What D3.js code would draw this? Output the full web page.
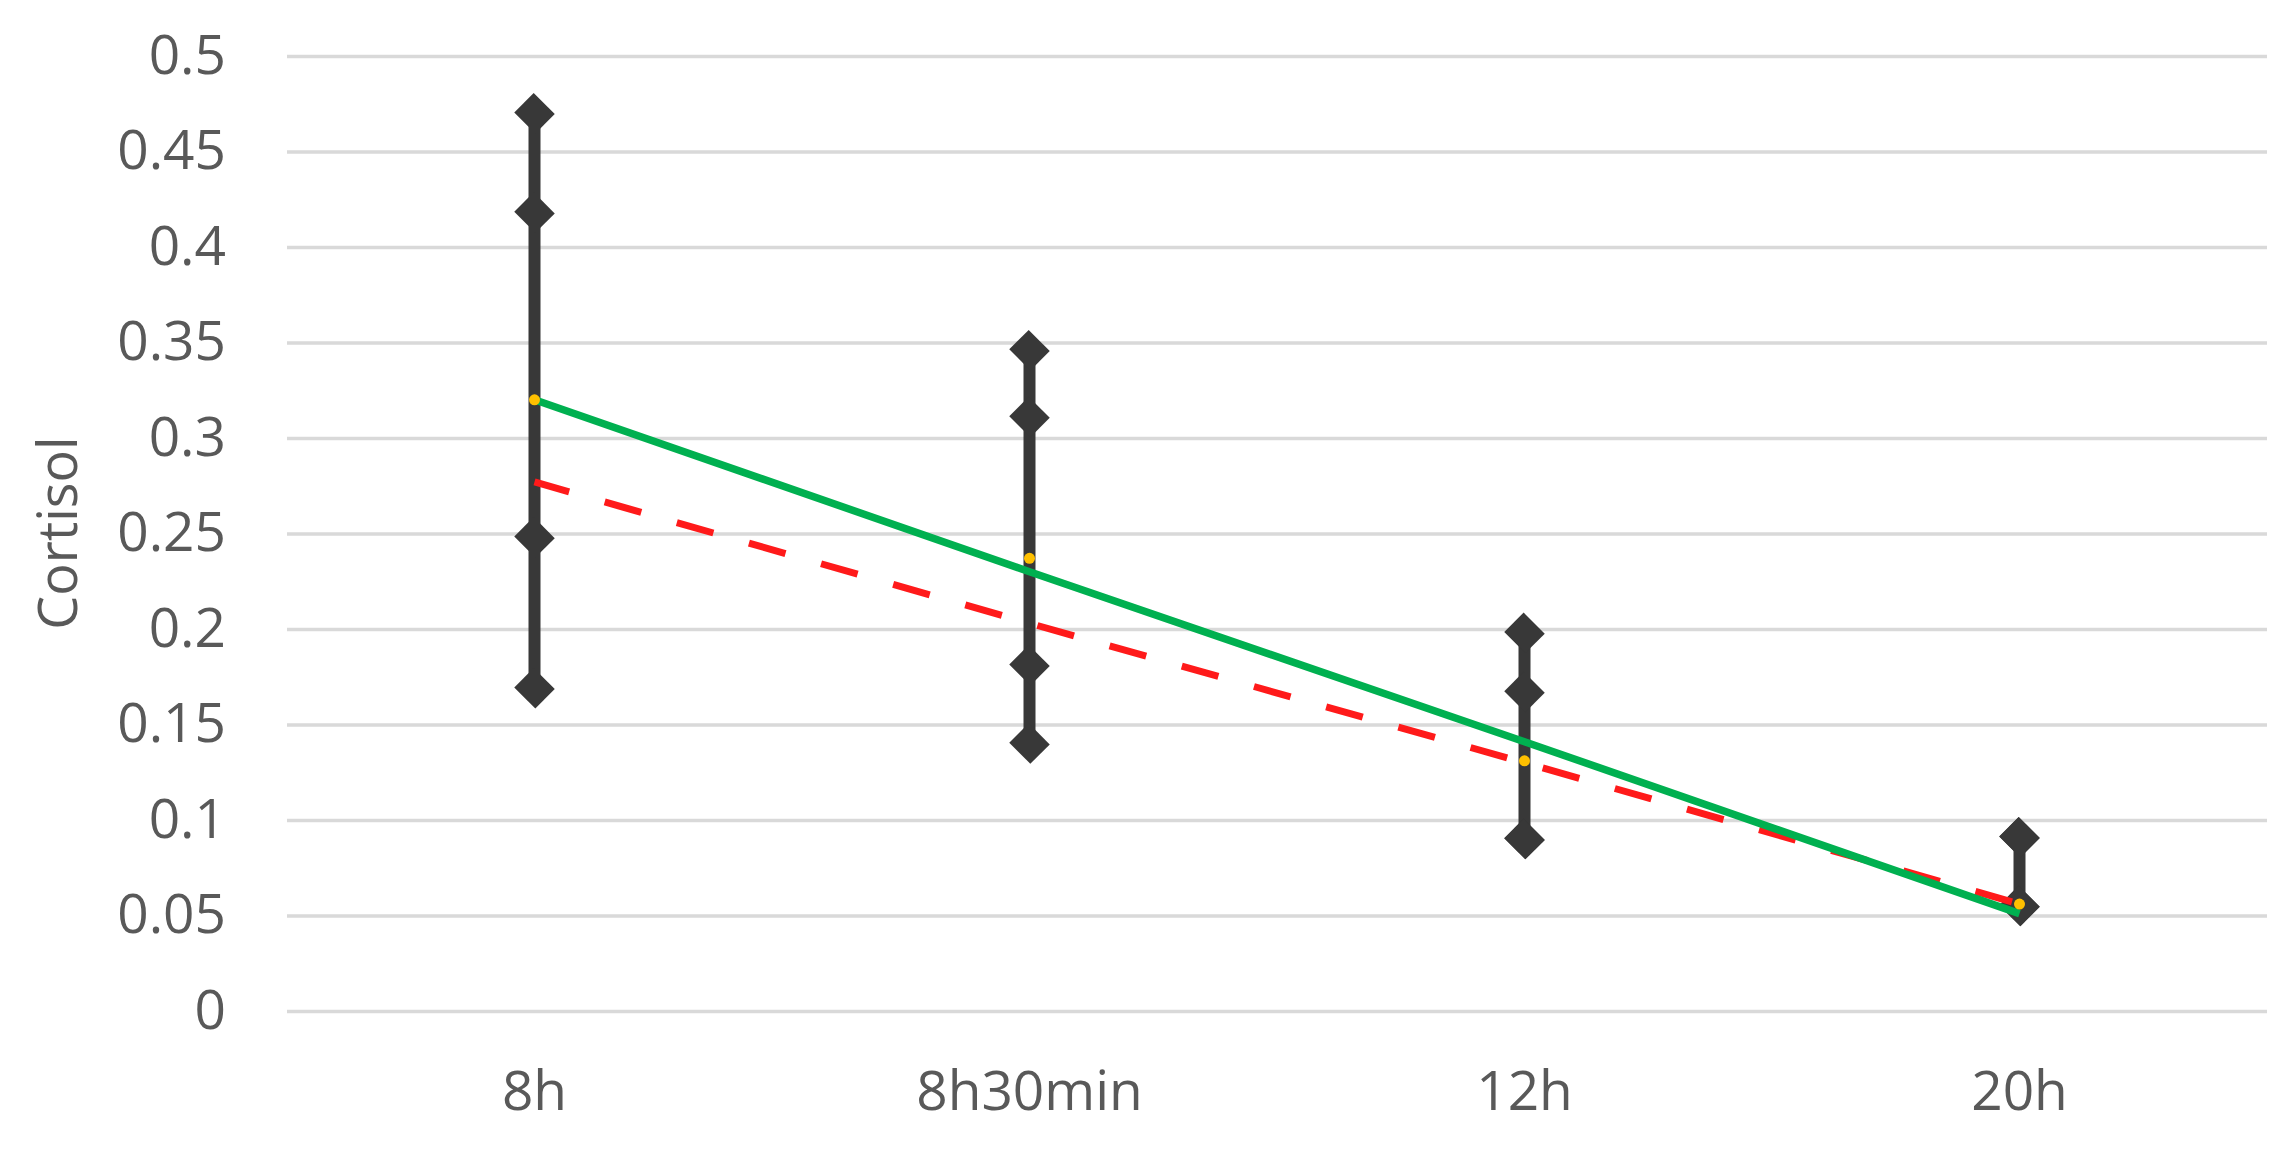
<!DOCTYPE html>
<html>
<head>
<meta charset="utf-8">
<script src="https://d3js.org/d3.v7.min.js" type="text/javascript"></script>
<style>
  body { margin: 0; background: #ffffff; }
  .tick-label { font-family: "Open Sans", sans-serif; fill: #595959; }
</style>
</head>
<body>
<div id="chart"></div>
<script>
// values
const categories = ["8h", "8h30min", "12h", "20h"];
const highValues = [0.470, 0.346, 0.198, 0.091];
const upperValues = [0.418, 0.311, 0.167, 0.091];
const lowerValues = [0.248, 0.181, 0.090, 0.055];
const lowValues = [0.169, 0.140, 0.090, 0.055];
const meanValues = [0.320, 0.237, 0.131, 0.056];
const trendValues = [0.320, 0.230, 0.141, 0.051];   // green trend line
const dashedValues = [0.277, 0.203, 0.130, 0.056];  // red dashed line
const yTicks = [0, 0.05, 0.1, 0.15, 0.2, 0.25, 0.3, 0.35, 0.4, 0.45, 0.5];
const yTitle = "Cortisol";

const dims = {
    width: 2289,
    height: 1151,
    margins: { l: 287, r: 22, t: 56, b: 140 }
};
dims.chartWidth = dims.width - dims.margins.l - dims.margins.r;
dims.chartHeight = dims.height - dims.margins.t - dims.margins.b;

const svg = d3.select("#chart").append("svg")
    .attr("width", dims.width)
    .attr("height", dims.height);

const g = svg.append("g")
    .attr("transform", `translate(${dims.margins.l},${dims.margins.t})`);

const x = d3.scaleBand().domain(categories).range([0, dims.chartWidth]).padding(0);
const y = d3.scaleLinear().domain([0, 0.5]).range([dims.chartHeight, 0]);
const cx = (c) => x(c) + x.bandwidth() / 2;

//gridlines
const yAxis = g.append("g")
    .call(d3.axisLeft(y).tickValues(yTicks).tickSize(-dims.chartWidth).tickFormat(d3.format("~g")));
yAxis.select(".domain").remove();
yAxis.selectAll(".tick line")
    .attr("stroke", "#d9d9d9")
    .attr("stroke-width", 3.5);
yAxis.selectAll(".tick text")
    .attr("class", "tick-label")
    .attr("x", -61)
    .attr("dy", "0.31em")
    .style("font-size", "55px");

//x axis labels
const xAxis = g.append("g")
    .attr("transform", `translate(0,${dims.chartHeight})`)
    .call(d3.axisBottom(x).tickSize(0));
xAxis.select(".domain").remove();
xAxis.selectAll(".tick text")
    .attr("class", "tick-label")
    .attr("y", 99)
    .attr("dy", 0)
    .style("font-size", "55px");

//y axis title
svg.append("text")
    .attr("class", "tick-label")
    .attr("transform", "translate(77,533) rotate(-90)")
    .attr("text-anchor", "middle")
    .style("font-size", "54px")
    .text(yTitle);

const rows = categories.map((c, i) => ({
    cat: c,
    high: highValues[i],
    upper: upperValues[i],
    lower: lowerValues[i],
    low: lowValues[i],
    mean: meanValues[i]
}));

const dark = "#383838";

//high-low lines
g.selectAll(".hilo")
    .data(rows)
    .enter().append("line")
    .attr("class", "hilo")
    .attr("x1", d => cx(d.cat))
    .attr("x2", d => cx(d.cat))
    .attr("y1", d => y(d.high))
    .attr("y2", d => y(d.low))
    .attr("stroke", dark)
    .attr("stroke-width", 12);

//diamond markers
const diamond = d3.symbol().type(d3.symbolSquare).size(820);
const markerPts = [];
rows.forEach(d => {
    [d.high, d.upper, d.lower, d.low].forEach(v => markerPts.push({ cat: d.cat, v }));
});
g.selectAll(".diamond")
    .data(markerPts)
    .enter().append("path")
    .attr("class", "diamond")
    .attr("d", diamond)
    .attr("transform", d => `translate(${cx(d.cat)},${y(d.v)}) rotate(45) scale(1.04,0.96)`)
    .attr("fill", dark);

//red dashed line
const line = d3.line()
    .x((d, i) => cx(categories[i]))
    .y(d => y(d));

g.append("path")
    .datum(dashedValues)
    .attr("d", line)
    .attr("fill", "none")
    .attr("stroke", "#ff1a1a")
    .attr("stroke-width", 7)
    .attr("stroke-dasharray", "38,37")
    .attr("stroke-dashoffset", 2);

//green trend line
g.append("path")
    .datum(trendValues)
    .attr("d", line)
    .attr("fill", "none")
    .attr("stroke", "#00b050")
    .attr("stroke-width", 7.5);

//mean markers
g.selectAll(".mean")
    .data(rows)
    .enter().append("circle")
    .attr("class", "mean")
    .attr("cx", d => cx(d.cat))
    .attr("cy", d => y(d.mean))
    .attr("r", 5.5)
    .attr("fill", "#ffc000");
</script>
</body>
</html>
